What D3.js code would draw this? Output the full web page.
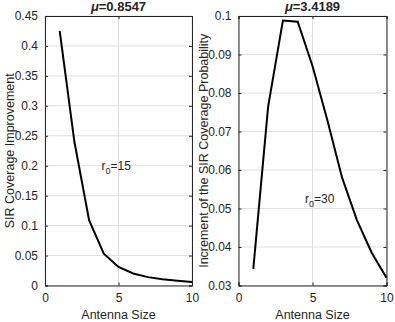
<!DOCTYPE html>
<html>
<head>
<meta charset="utf-8">
<script src="https://cdn.jsdelivr.net/npm/d3@7"></script>
<style>
body { margin: 0; background: #fff; }
svg text { font-family: "Liberation Sans", Arial, sans-serif; fill: #262626; }
</style>
</head>
<body>
<svg id="chart" width="395" height="322"></svg>
<script>
const antennaSize = [1, 2, 3, 4, 5, 6, 7, 8, 9, 10];
const improvement15 = [0.425, 0.24, 0.109, 0.053, 0.031, 0.020, 0.014, 0.0105, 0.008, 0.006];
const increment30 = [0.0343, 0.0764, 0.0988, 0.0985, 0.087, 0.073, 0.058, 0.047, 0.0385, 0.032];
const xTicks = [0, 5, 10];
const leftYTicks = [0, 0.05, 0.1, 0.15, 0.2, 0.25, 0.3, 0.35, 0.4, 0.45];
const rightYTicks = [0.03, 0.04, 0.05, 0.06, 0.07, 0.08, 0.09, 0.1];

const svg = d3.select("#chart");

const panels = [
	{
		left: 45, right: 192, top: 16, bottom: 285.5,
		yDomain: [0, 0.45], yTicks: leftYTicks, values: improvement15,
		mu: "0.8547", yLabel: "SIR Coverage Improvement", yLabelX: 9.5,
		note: "15", noteAt: [3.85, 0.193]
	},
	{
		left: 238.5, right: 386.5, top: 16, bottom: 285.5,
		yDomain: [0.03, 0.1], yTicks: rightYTicks, values: increment30,
		mu: "3.4189", yLabel: "Increment of the SIR Coverage Probability", yLabelX: 204,
		note: "30", noteAt: [4.5, 0.0513]
	}
];

panels.forEach((p) => {
	const x = d3.scaleLinear().domain([0, 10]).range([p.left, p.right]);
	const y = d3.scaleLinear().domain(p.yDomain).range([p.bottom, p.top]);
	const g = svg.append("g");

	// grid
	g.selectAll(".gx").data(xTicks).enter().append("line")
		.attr("x1", (d) => x(d)).attr("x2", (d) => x(d))
		.attr("y1", p.top).attr("y2", p.bottom)
		.attr("stroke", "#e0e0e0").attr("stroke-width", 1);
	g.selectAll(".gy").data(p.yTicks).enter().append("line")
		.attr("x1", p.left).attr("x2", p.right)
		.attr("y1", (d) => y(d)).attr("y2", (d) => y(d))
		.attr("stroke", "#e0e0e0").attr("stroke-width", 1);

	// axes
	const fmt = (d) => d3.format("")(+d.toFixed(3));
	g.append("g").attr("transform", `translate(0,${p.bottom})`)
		.call(d3.axisBottom(x).tickValues(xTicks).tickSize(-3).tickPadding(8).tickFormat(fmt));
	g.append("g").attr("transform", `translate(0,${p.top})`)
		.call(d3.axisTop(x).tickValues(xTicks).tickSize(-3).tickFormat(""));
	g.append("g").attr("transform", `translate(${p.left},0)`)
		.call(d3.axisLeft(y).tickValues(p.yTicks).tickSize(-3).tickPadding(7).tickFormat(fmt));
	g.append("g").attr("transform", `translate(${p.right},0)`)
		.call(d3.axisRight(y).tickValues(p.yTicks).tickSize(-3).tickFormat(""));
	g.selectAll(".domain").attr("stroke", "#262626");
	g.selectAll(".tick line").attr("stroke", "#262626");
	g.selectAll(".tick text").style("font-size", "12px").attr("fill", "#262626");

	// line
	const line = d3.line().x((d, i) => x(antennaSize[i])).y((d) => y(d));
	g.append("path").datum(p.values)
		.attr("d", line)
		.attr("fill", "none").attr("stroke", "#000").attr("stroke-width", 2)
		.attr("stroke-linejoin", "miter");

	// title
	const t = g.append("text")
		.attr("x", (p.left + p.right) / 2).attr("y", 11)
		.attr("text-anchor", "middle")
		.style("font-size", "13px").style("font-weight", "bold");
	t.append("tspan").style("font-style", "italic").text("\u03bc");
	t.append("tspan").text("=" + p.mu);

	// axis labels
	g.append("text")
		.attr("x", (p.left + p.right) / 2).attr("y", 319)
		.attr("text-anchor", "middle").style("font-size", "12.5px")
		.text("Antenna Size");
	g.append("text")
		.attr("transform", `translate(${p.yLabelX},${(p.top + p.bottom) / 2}) rotate(-90)`)
		.attr("text-anchor", "middle").attr("dy", "0.35em").style("font-size", "12.5px")
		.text(p.yLabel);

	// annotation
	const n = g.append("text")
		.attr("x", x(p.noteAt[0])).attr("y", y(p.noteAt[1]))
		.style("font-size", "12px");
	n.append("tspan").text("r");
	n.append("tspan").attr("dy", 4).style("font-size", "9px").text("0");
	n.append("tspan").attr("dy", -4).text("=" + p.note);
});
</script>
</body>
</html>
